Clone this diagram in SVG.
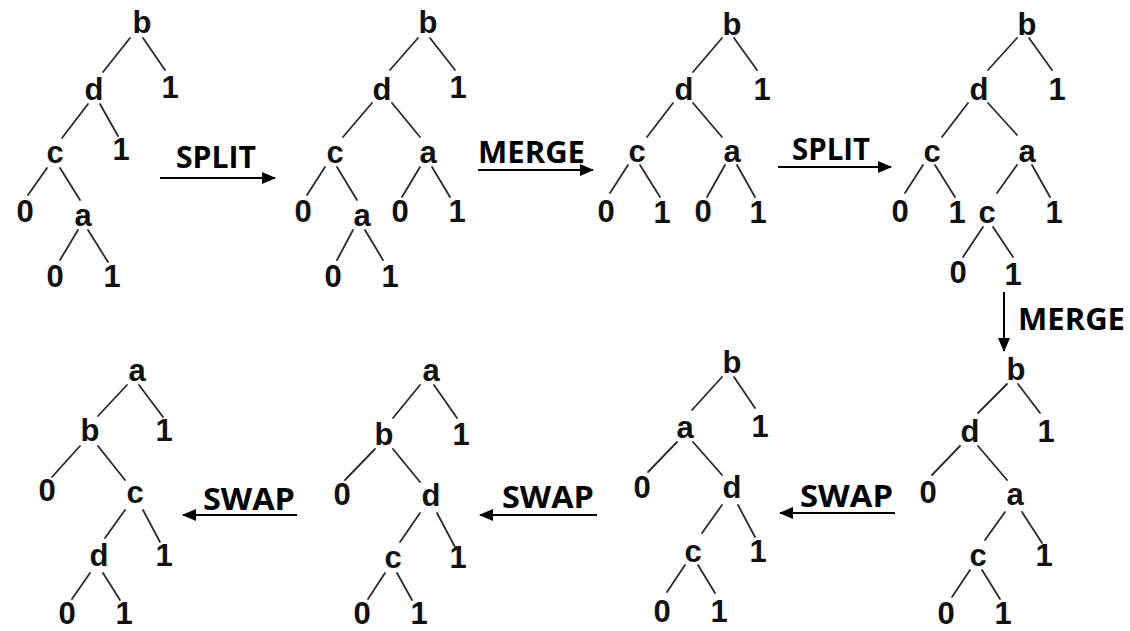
<svg xmlns="http://www.w3.org/2000/svg" width="1130" height="631" viewBox="0 0 1130 631">
  <style>
    .n { font-family: "Liberation Sans", Arial, sans-serif; font-weight: bold; font-size: 31px; fill: #111; text-anchor: middle; }
    .e { stroke: #2a2a2a; stroke-width: 1.8; fill: none; stroke-linecap: round; }
    .op { font-family: "Open Sans", "Liberation Sans", sans-serif; font-weight: bold; font-size: 30px; fill: #000; }
    .arr { stroke: #000; stroke-width: 2; fill: none; }
  </style>
  <defs>
    <marker id="head" viewBox="0 0 14 12" refX="13" refY="6" markerWidth="14" markerHeight="12" markerUnits="userSpaceOnUse" orient="auto">
      <path d="M0,0 L14,6 L0,12 Z" fill="#000"/>
    </marker>
  </defs>
  <rect width="1130" height="631" fill="#fff"/>

  <!-- Tree 1: b(d(c(0,a(0,1)),1),1) -->
  <g id="tree1">
    <g class="edges">
      <line class="e" x1="130" y1="38" x2="103" y2="72"/>
      <line class="e" x1="143" y1="38" x2="165" y2="70"/>
      <line class="e" x1="88" y1="104" x2="62" y2="138"/>
      <line class="e" x1="100" y1="104" x2="118" y2="136"/>
      <line class="e" x1="47" y1="168" x2="28" y2="195"/>
      <line class="e" x1="60" y1="168" x2="80" y2="200"/>
      <line class="e" x1="78" y1="230" x2="60" y2="260"/>
      <line class="e" x1="88" y1="230" x2="108" y2="262"/>
    </g>
    <g id="t1-b"><text class="n" x="142" y="33">b</text></g>
    <g id="t1-b1"><text class="n" x="170" y="98">1</text></g>
    <g id="t1-d"><text class="n" x="94" y="100">d</text></g>
    <g id="t1-d1"><text class="n" x="121" y="160">1</text></g>
    <g id="t1-c"><text class="n" x="55" y="163">c</text></g>
    <g id="t1-c0"><text class="n" x="25" y="222">0</text></g>
    <g id="t1-a"><text class="n" x="83" y="226">a</text></g>
    <g id="t1-a0"><text class="n" x="55" y="287">0</text></g>
    <g id="t1-a1"><text class="n" x="112" y="287">1</text></g>
  </g>

  <!-- Tree 2: b(d(c(0,a(0,1)),a(0,1)),1) -->
  <g id="tree2">
    <g class="edges">
      <line class="e" x1="418" y1="38" x2="390" y2="70"/>
      <line class="e" x1="430" y1="38" x2="455" y2="70"/>
      <line class="e" x1="372" y1="103" x2="343" y2="137"/>
      <line class="e" x1="392" y1="103" x2="420" y2="137"/>
      <line class="e" x1="325" y1="167" x2="307" y2="195"/>
      <line class="e" x1="337" y1="167" x2="357" y2="200"/>
      <line class="e" x1="420" y1="167" x2="402" y2="197"/>
      <line class="e" x1="432" y1="167" x2="450" y2="197"/>
      <line class="e" x1="353" y1="230" x2="337" y2="260"/>
      <line class="e" x1="365" y1="230" x2="383" y2="260"/>
    </g>
    <g id="t2-b"><text class="n" x="428" y="33">b</text></g>
    <g id="t2-b1"><text class="n" x="458" y="98">1</text></g>
    <g id="t2-d"><text class="n" x="382" y="100">d</text></g>
    <g id="t2-c"><text class="n" x="335" y="163">c</text></g>
    <g id="t2-a"><text class="n" x="428" y="163">a</text></g>
    <g id="t2-c0"><text class="n" x="303" y="222">0</text></g>
    <g id="t2-ca"><text class="n" x="362" y="226">a</text></g>
    <g id="t2-a0"><text class="n" x="400" y="222">0</text></g>
    <g id="t2-a1"><text class="n" x="457" y="222">1</text></g>
    <g id="t2-ca0"><text class="n" x="333" y="287">0</text></g>
    <g id="t2-ca1"><text class="n" x="390" y="287">1</text></g>
  </g>

  <!-- Tree 3: b(d(c(0,1),a(0,1)),1) -->
  <g id="tree3">
    <g class="edges">
      <line class="e" x1="722" y1="38" x2="693" y2="72"/>
      <line class="e" x1="734" y1="38" x2="757" y2="70"/>
      <line class="e" x1="673" y1="103" x2="647" y2="137"/>
      <line class="e" x1="693" y1="103" x2="722" y2="137"/>
      <line class="e" x1="628" y1="165" x2="610" y2="193"/>
      <line class="e" x1="640" y1="165" x2="660" y2="197"/>
      <line class="e" x1="725" y1="165" x2="707" y2="197"/>
      <line class="e" x1="737" y1="165" x2="755" y2="197"/>
    </g>
    <g id="t3-b"><text class="n" x="732" y="35">b</text></g>
    <g id="t3-b1"><text class="n" x="762" y="100">1</text></g>
    <g id="t3-d"><text class="n" x="684" y="100">d</text></g>
    <g id="t3-c"><text class="n" x="637" y="162">c</text></g>
    <g id="t3-a"><text class="n" x="732" y="162">a</text></g>
    <g id="t3-c0"><text class="n" x="606" y="222">0</text></g>
    <g id="t3-c1"><text class="n" x="662" y="223">1</text></g>
    <g id="t3-a0"><text class="n" x="703" y="222">0</text></g>
    <g id="t3-a1"><text class="n" x="758" y="223">1</text></g>
  </g>

  <!-- Tree 4: b(d(c(0,1),a(c(0,1),1)),1) -->
  <g id="tree4">
    <g class="edges">
      <line class="e" x1="1017" y1="38" x2="988" y2="70"/>
      <line class="e" x1="1029" y1="38" x2="1052" y2="70"/>
      <line class="e" x1="968" y1="103" x2="942" y2="137"/>
      <line class="e" x1="988" y1="103" x2="1017" y2="135"/>
      <line class="e" x1="923" y1="165" x2="905" y2="193"/>
      <line class="e" x1="935" y1="165" x2="955" y2="197"/>
      <line class="e" x1="1017" y1="165" x2="997" y2="193"/>
      <line class="e" x1="1032" y1="165" x2="1050" y2="197"/>
      <line class="e" x1="983" y1="227" x2="963" y2="257"/>
      <line class="e" x1="993" y1="227" x2="1013" y2="257"/>
    </g>
    <g id="t4-b"><text class="n" x="1027" y="35">b</text></g>
    <g id="t4-b1"><text class="n" x="1057" y="100">1</text></g>
    <g id="t4-d"><text class="n" x="979" y="100">d</text></g>
    <g id="t4-c"><text class="n" x="932" y="162">c</text></g>
    <g id="t4-a"><text class="n" x="1027" y="162">a</text></g>
    <g id="t4-c0"><text class="n" x="900" y="222">0</text></g>
    <g id="t4-c1"><text class="n" x="957" y="223">1</text></g>
    <g id="t4-ac"><text class="n" x="987" y="223">c</text></g>
    <g id="t4-a1"><text class="n" x="1054" y="223">1</text></g>
    <g id="t4-ac0"><text class="n" x="958" y="283">0</text></g>
    <g id="t4-ac1"><text class="n" x="1013" y="285">1</text></g>
  </g>

  <!-- Tree 5: a(b(0,c(d(0,1),1)),1) -->
  <g id="tree5">
    <g class="edges">
      <line class="e" x1="127" y1="385" x2="98" y2="416"/>
      <line class="e" x1="139" y1="385" x2="163" y2="417"/>
      <line class="e" x1="80" y1="446" x2="52" y2="477"/>
      <line class="e" x1="98" y1="446" x2="125" y2="480"/>
      <line class="e" x1="125" y1="510" x2="105" y2="538"/>
      <line class="e" x1="143" y1="510" x2="160" y2="542"/>
      <line class="e" x1="90" y1="573" x2="72" y2="599"/>
      <line class="e" x1="103" y1="573" x2="120" y2="600"/>
    </g>
    <g id="t5-a"><text class="n" x="137" y="381">a</text></g>
    <g id="t5-a1"><text class="n" x="164" y="441">1</text></g>
    <g id="t5-b"><text class="n" x="90" y="441">b</text></g>
    <g id="t5-b0"><text class="n" x="47" y="501">0</text></g>
    <g id="t5-c"><text class="n" x="135" y="503">c</text></g>
    <g id="t5-d"><text class="n" x="99" y="566">d</text></g>
    <g id="t5-c1"><text class="n" x="164" y="566">1</text></g>
    <g id="t5-d0"><text class="n" x="67" y="624">0</text></g>
    <g id="t5-d1"><text class="n" x="124" y="624">1</text></g>
  </g>

  <!-- Tree 6: a(b(0,d(c(0,1),1)),1) -->
  <g id="tree6">
    <g class="edges">
      <line class="e" x1="420" y1="385" x2="393" y2="418"/>
      <line class="e" x1="434" y1="385" x2="457" y2="418"/>
      <line class="e" x1="375" y1="449" x2="345" y2="480"/>
      <line class="e" x1="393" y1="449" x2="420" y2="482"/>
      <line class="e" x1="420" y1="513" x2="400" y2="542"/>
      <line class="e" x1="437" y1="513" x2="455" y2="547"/>
      <line class="e" x1="385" y1="573" x2="368" y2="599"/>
      <line class="e" x1="397" y1="573" x2="412" y2="600"/>
    </g>
    <g id="t6-a"><text class="n" x="431" y="381">a</text></g>
    <g id="t6-a1"><text class="n" x="461" y="445">1</text></g>
    <g id="t6-b"><text class="n" x="384" y="445">b</text></g>
    <g id="t6-b0"><text class="n" x="342" y="505">0</text></g>
    <g id="t6-d"><text class="n" x="431" y="506">d</text></g>
    <g id="t6-c"><text class="n" x="393" y="568">c</text></g>
    <g id="t6-d1"><text class="n" x="458" y="568">1</text></g>
    <g id="t6-c0"><text class="n" x="362" y="624">0</text></g>
    <g id="t6-c1"><text class="n" x="419" y="624">1</text></g>
  </g>

  <!-- Tree 7: b(a(0,d(c(0,1),1)),1) -->
  <g id="tree7">
    <g class="edges">
      <line class="e" x1="722" y1="377" x2="692" y2="410"/>
      <line class="e" x1="734" y1="377" x2="755" y2="408"/>
      <line class="e" x1="677" y1="442" x2="648" y2="472"/>
      <line class="e" x1="693" y1="442" x2="722" y2="475"/>
      <line class="e" x1="722" y1="505" x2="702" y2="533"/>
      <line class="e" x1="738" y1="505" x2="755" y2="537"/>
      <line class="e" x1="685" y1="565" x2="667" y2="592"/>
      <line class="e" x1="698" y1="565" x2="715" y2="593"/>
    </g>
    <g id="t7-b"><text class="n" x="732" y="373">b</text></g>
    <g id="t7-b1"><text class="n" x="760" y="437">1</text></g>
    <g id="t7-a"><text class="n" x="685" y="438">a</text></g>
    <g id="t7-a0"><text class="n" x="642" y="498">0</text></g>
    <g id="t7-d"><text class="n" x="732" y="498">d</text></g>
    <g id="t7-c"><text class="n" x="693" y="562">c</text></g>
    <g id="t7-d1"><text class="n" x="758" y="562">1</text></g>
    <g id="t7-c0"><text class="n" x="662" y="622">0</text></g>
    <g id="t7-c1"><text class="n" x="719" y="622">1</text></g>
  </g>

  <!-- Tree 8: b(d(0,a(c(0,1),1)),1) -->
  <g id="tree8">
    <g class="edges">
      <line class="e" x1="1007" y1="384" x2="978" y2="413"/>
      <line class="e" x1="1018" y1="384" x2="1040" y2="413"/>
      <line class="e" x1="960" y1="446" x2="932" y2="475"/>
      <line class="e" x1="978" y1="446" x2="1007" y2="480"/>
      <line class="e" x1="1005" y1="512" x2="985" y2="540"/>
      <line class="e" x1="1022" y1="512" x2="1042" y2="543"/>
      <line class="e" x1="970" y1="570" x2="952" y2="597"/>
      <line class="e" x1="982" y1="570" x2="1000" y2="599"/>
    </g>
    <g id="t8-b"><text class="n" x="1016" y="380">b</text></g>
    <g id="t8-b1"><text class="n" x="1046" y="442">1</text></g>
    <g id="t8-d"><text class="n" x="970" y="442">d</text></g>
    <g id="t8-d0"><text class="n" x="928" y="503">0</text></g>
    <g id="t8-a"><text class="n" x="1015" y="505">a</text></g>
    <g id="t8-c"><text class="n" x="978" y="566">c</text></g>
    <g id="t8-a1"><text class="n" x="1044" y="566">1</text></g>
    <g id="t8-c0"><text class="n" x="946" y="624">0</text></g>
    <g id="t8-c1"><text class="n" x="1003" y="624">1</text></g>
  </g>

  <!-- Transformation steps -->
  <g id="connectors">
    <g id="op-split-1">
      <line class="arr" x1="160" y1="178" x2="275" y2="178" marker-end="url(#head)"/>
      <text class="op" x="176" y="168" textLength="80" lengthAdjust="spacingAndGlyphs">SPLIT</text>
    </g>
    <g id="op-merge-1">
      <line class="arr" x1="478" y1="170" x2="593" y2="170" marker-end="url(#head)"/>
      <text class="op" x="478" y="163" textLength="107" lengthAdjust="spacingAndGlyphs">MERGE</text>
    </g>
    <g id="op-split-2">
      <line class="arr" x1="778" y1="167" x2="891" y2="167" marker-end="url(#head)"/>
      <text class="op" x="792" y="160" textLength="78" lengthAdjust="spacingAndGlyphs">SPLIT</text>
    </g>
    <g id="op-merge-2">
      <line class="arr" x1="1004" y1="292" x2="1004" y2="351" marker-end="url(#head)"/>
      <text class="op" x="1018" y="330" textLength="107" lengthAdjust="spacingAndGlyphs">MERGE</text>
    </g>
    <g id="op-swap-1">
      <line class="arr" x1="895" y1="513" x2="780" y2="513" marker-end="url(#head)"/>
      <text class="op" x="800" y="507" textLength="93" lengthAdjust="spacingAndGlyphs">SWAP</text>
    </g>
    <g id="op-swap-2">
      <line class="arr" x1="597" y1="515" x2="480" y2="515" marker-end="url(#head)"/>
      <text class="op" x="502" y="508" textLength="92" lengthAdjust="spacingAndGlyphs">SWAP</text>
    </g>
    <g id="op-swap-3">
      <line class="arr" x1="297" y1="515" x2="183" y2="515" marker-end="url(#head)"/>
      <text class="op" x="203" y="510" textLength="92" lengthAdjust="spacingAndGlyphs">SWAP</text>
    </g>
  </g>
</svg>
